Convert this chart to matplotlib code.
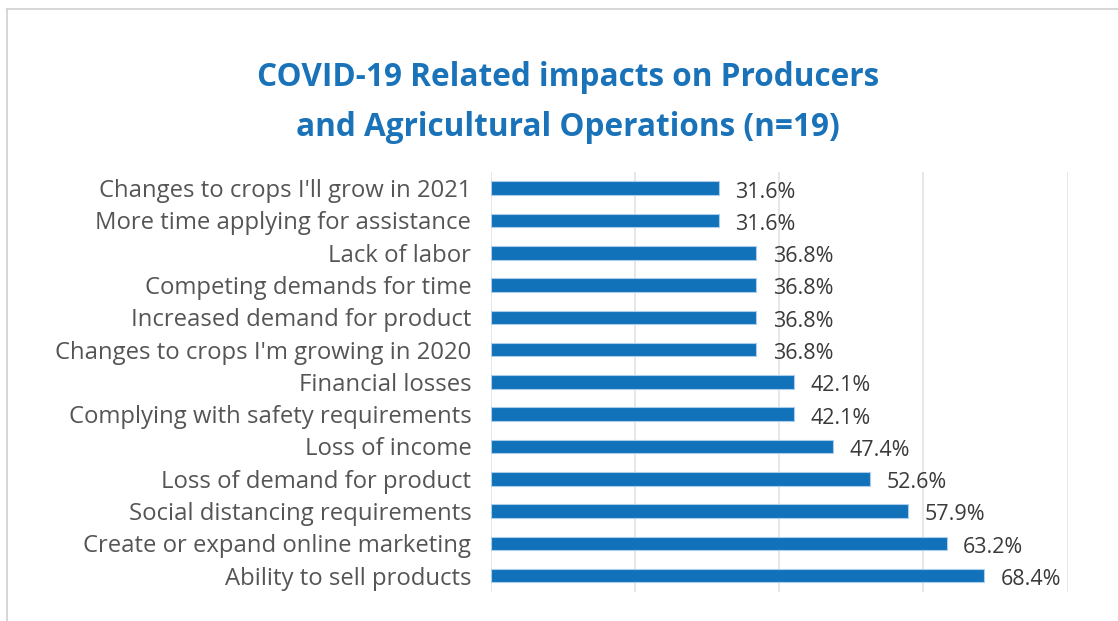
import matplotlib
matplotlib.use("Agg")
import matplotlib.pyplot as plt
from matplotlib.lines import Line2D

plt.rcParams['font.family'] = ['Open Sans', 'DejaVu Sans']

# categories, top to bottom as in the chart
categories = ["Changes to crops I'll grow in 2021",
              "More time applying for assistance",
              "Lack of labor",
              "Competing demands for time",
              "Increased demand for product",
              "Changes to crops I'm growing in 2020",
              "Financial losses",
              "Complying with safety requirements",
              "Loss of income",
              "Loss of demand for product",
              "Social distancing requirements",
              "Create or expand online marketing",
              "Ability to sell products"]
values = [31.6, 31.6, 36.8, 36.8, 36.8, 36.8, 42.1, 42.1, 47.4, 52.6, 57.9, 63.2, 68.4]
x_ticks = [0, 20, 40, 60, 80]

bar_color = "#1172ba"
title_color = "#1a73b9"

fig = plt.figure(figsize=(11.18, 6.21), dpi=100)
ax = fig.add_axes([0.439, 0.047, 0.516, 0.676])

ypos = list(range(len(categories)))[::-1]
ax.barh(ypos, values, height=0.42, color=bar_color, edgecolor="#a9cdea", linewidth=0.8, zorder=3)

for y, v in zip(ypos, values):
    ax.text(v + 2.3, y - 0.12, "%.1f%%" % v, va="center", ha="left",
            fontsize=15.5, color="#3a3a3a")

ax.set_xlim(0, 80)
ax.set_ylim(-0.5, 12.5)
ax.set_xticks(x_ticks)
ax.set_xticklabels([])
ax.set_yticks(ypos)
ax.set_yticklabels(categories, fontsize=17.2, color="#555555")
ax.tick_params(axis="both", length=0)
ax.tick_params(axis="y", pad=14)
ax.grid(axis="x", color="#e3e3e3", linewidth=1.2, zorder=0)
for s in ax.spines.values():
    s.set_visible(False)

fig.text(0.508, 0.876, "COVID-19 Related impacts on Producers", ha="center", va="center",
         fontsize=22.7, fontweight="bold", color=title_color)
fig.text(0.508, 0.794, "and Agricultural Operations (n=19)", ha="center", va="center",
         fontsize=22.7, fontweight="bold", color=title_color)

# thin frame around the card
fig.add_artist(Line2D([0.0065, 1.0], [0.986, 0.986], color="#d0d0d0", linewidth=1.2))
fig.add_artist(Line2D([0.0065, 0.0065], [0.0, 0.986], color="#d0d0d0", linewidth=1.2))

fig.savefig("out.png", dpi=100)
